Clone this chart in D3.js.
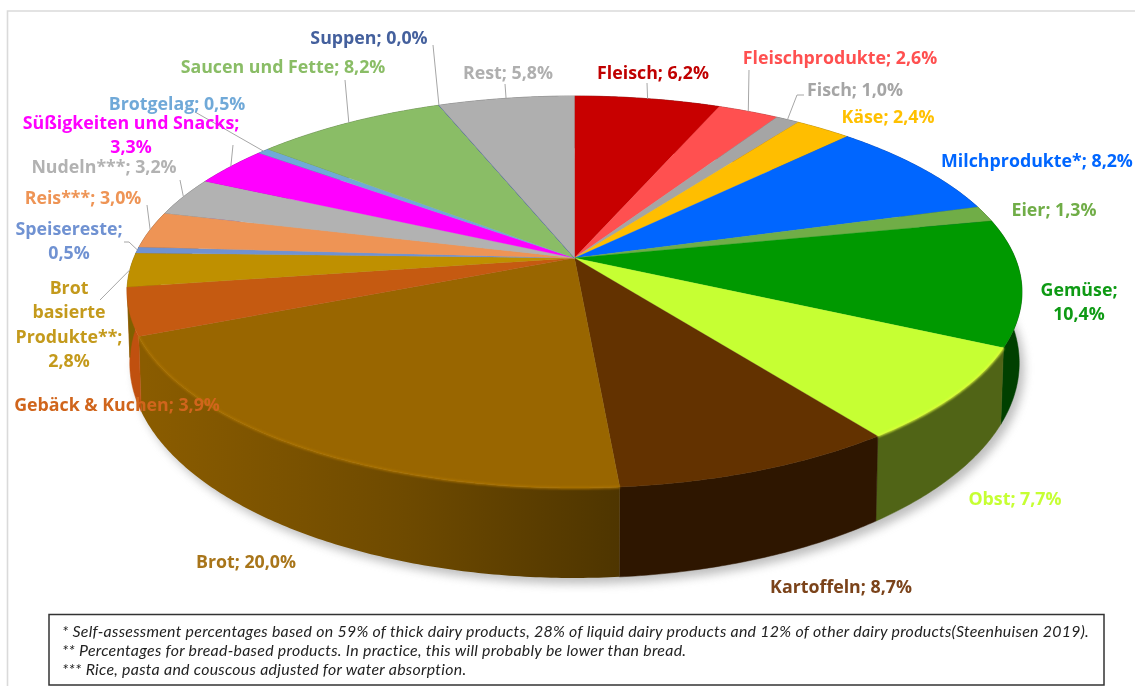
<!DOCTYPE html>
<html lang="de">
<head>
<meta charset="utf-8">
<script src="https://cdn.jsdelivr.net/npm/d3@7/dist/d3.min.js"></script>
<style>
html,body{margin:0;padding:0;background:#fff;overflow:hidden}
svg{display:block;filter:blur(0.45px)}
</style>
</head>
<body>
<svg id="chart" width="1135" height="686"></svg>
<script>
// ---- data ----
const categories = ["Fleisch","Fleischprodukte","Fisch","Käse","Milchprodukte*","Eier","Gemüse","Obst","Kartoffeln","Brot","Gebäck & Kuchen","Brot basierte Produkte**","Speisereste","Reis***","Nudeln***","Süßigkeiten und Snacks","Brotgelag","Saucen und Fette","Suppen","Rest"];
const values = [6.2,2.6,1.0,2.4,8.2,1.3,10.4,7.7,8.7,20.0,3.9,2.8,0.5,3.0,3.2,3.3,0.5,8.2,0.0,5.8];
const colors = ["#C80000","#FF5050","#A5A5A5","#FFBE00","#0066FF","#70AD47","#009900","#C6FF33","#633200","#996600","#C55A11","#BF9000","#7092D2","#EE9455","#B2B2B2","#FF00FF","#70A9D8","#8ABD66","#44609D","#AFAFAF"];
const wallColors = ["#640000","#802828","#525252","#806000","#003380","#385624","#004000","#506416","#2E1600","#6E4A00","#C0500F","#806000","#384969","#77492A","#595959","#800080","#38546C","#455E33","#223050","#575757"];
const labelColors = ["#C00000","#FF5050","#A5A5A5","#FFC000","#0066FF","#70AD47","#0E9A14","#C6FF33","#7B431A","#A8751A","#D0651C","#C49A1C","#7092D2","#EE9455","#B2B2B2","#FF00FF","#70A9D8","#8ABD66","#44609D","#AFAFAF"];
const labelLines = [["Fleisch; 6,2%"],["Fleischprodukte; 2,6%"],["Fisch; 1,0%"],["Käse; 2,4%"],["Milchprodukte*; 8,2%"],["Eier; 1,3%"],["Gemüse;","10,4%"],["Obst; 7,7%"],["Kartoffeln; 8,7%"],["Brot; 20,0%"],["Gebäck & Kuchen; 3,9%"],["Brot","basierte","Produkte**;","2,8%"],["Speisereste;","0,5%"],["Reis***; 3,0%"],["Nudeln***; 3,2%"],["Süßigkeiten und Snacks;","3,3%"],["Brotgelag; 0,5%"],["Saucen und Fette; 8,2%"],["Suppen; 0,0%"],["Rest; 5,8%"]];
const notes = [
  "* Self-assessment percentages based on 59% of thick dairy products, 28% of liquid dairy products and 12% of other dairy products(Steenhuisen 2019).",
  "** Percentages for bread-based products. In practice, this will probably be lower than bread.",
  "*** Rice, pasta and couscous adjusted for water absorption."
];

// ---- layout (label centre x / first-line centre y, and leader start) ----
const labelAt = [[653,73],[840,58],[855,90],[888,117],[1037,161],[1054,210],[1079,290],[1015,499],[841,587],[246,562],[117,405],[69,288],[69,229],[83,198],[104,167],[131,123],[177,104],[283,67],[369,38],[508,73]];
const leaderFrom = [[647,83],[749,70],[[804,95],[797,95]],null,null,null,null,null,null,null,null,[100,300],[[124,242],[129,242]],[147,205],[180,180],[233,145],[195,112],[345,80],[433,45],[505,84]];
const lineStep = 24.2;

// perspective disc: unit circle -> screen
const k = -0.1735;
const top_ = {cx:574.5, cy:258, bx:440.7, by:190.1};
const bot_ = {cx:574.5, cy:325.7, bx:438, by:208.5};
const project = (a, L) => {
  const X = Math.sin(a), Y = -Math.cos(a), d = 1 + k*Y;
  return [L.cx + L.bx*X/d, L.cy + L.by*Y/d];
};
const arcPts = (a0, a1, L) => {
  const n = Math.max(2, Math.ceil(Math.abs(a1-a0)/0.01));
  return d3.range(n+1).map(i => project(a0 + (a1-a0)*i/n, L));
};

const pieData = d3.pie().sort(null).value(d => d.v).startAngle(0).endAngle(2*Math.PI)(
  values.map((v,i) => ({v,i})));

const svg = d3.select("#chart");
const defs = svg.append("defs");
defs.append("filter").attr("id","soft").attr("x","-10%").attr("y","-10%").attr("width","120%").attr("height","120%")
  .append("feGaussianBlur").attr("stdDeviation",5);
defs.append("filter").attr("id","edge").attr("x","-5%").attr("y","-5%").attr("width","110%").attr("height","110%")
  .append("feGaussianBlur").attr("stdDeviation",0.8);
const brotGrad = defs.append("linearGradient").attr("id","brotWall")
  .attr("gradientUnits","userSpaceOnUse").attr("x1",145).attr("x2",620).attr("y1",0).attr("y2",0);
brotGrad.append("stop").attr("offset",0).attr("stop-color","#8A5C00");
brotGrad.append("stop").attr("offset",0.55).attr("stop-color","#6E4A00");
brotGrad.append("stop").attr("offset",1).attr("stop-color","#4E3500");

const line = d3.line();
const TAU = 2*Math.PI;

// outer frame
svg.append("path").attr("d", line([[1135,11],[7.5,11],[7.5,686]]))
  .attr("fill","none").attr("stroke","#DADADA").attr("stroke-width",1.6);

// soft shadow under the disc
svg.append("path")
  .attr("d", line(arcPts(0,TAU,bot_))+"Z")
  .attr("transform","translate(5,6)")
  .attr("fill","#8a8a8a").attr("opacity",0.55).attr("filter","url(#soft)");

// side walls
svg.append("g").selectAll("path").data(pieData).join("path")
  .attr("d", d => line(arcPts(d.startAngle,d.endAngle,top_).concat(arcPts(d.endAngle,d.startAngle,bot_)))+"Z")
  .attr("fill", d => d.data.i===9 ? "url(#brotWall)" : wallColors[d.data.i])
  .attr("stroke", d => d.data.i===9 ? "none" : wallColors[d.data.i]).attr("stroke-width",0.5);

// top faces
svg.append("g").selectAll("path").data(pieData).join("path")
  .attr("d", d => line([[top_.cx,top_.cy]].concat(arcPts(d.startAngle,d.endAngle,top_)))+"Z")
  .attr("fill", d => colors[d.data.i])
  .attr("stroke", d => colors[d.data.i]).attr("stroke-width",d => d.value===0 ? 1 : 0.3);

// bevel highlight along the front rim of the lit slices
svg.append("g").attr("filter","url(#edge)").selectAll("path")
  .data(pieData.filter(d => d.data.i===7 || d.data.i===9)).join("path")
  .attr("d", d => line(arcPts(d.startAngle,d.endAngle,top_)))
  .attr("fill","none")
  .attr("stroke", d => d3.color(colors[d.data.i]).brighter(0.35))
  .attr("stroke-width",2);

// leader lines
svg.append("g").selectAll("path")
  .data(pieData.filter(d => leaderFrom[d.data.i])).join("path")
  .attr("d", d => {
    const f = leaderFrom[d.data.i];
    const start = Array.isArray(f[0]) ? f : [f];
    const mid = (d.startAngle+d.endAngle)/2;
    return line(start.concat([project(mid, top_)]));
  })
  .attr("fill","none").attr("stroke","#A6A6A6").attr("stroke-width",1);

// data labels
const lab = svg.append("g")
  .attr("font-family","'Open Sans', sans-serif")
  .attr("font-weight",700).attr("font-size",17.8).attr("text-anchor","middle");
categories.forEach((name,i) => {
  labelLines[i].forEach((t,j) => {
    lab.append("text")
      .attr("x",labelAt[i][0]).attr("y",labelAt[i][1]+j*lineStep)
      .attr("dy","0.35em").attr("fill",labelColors[i]).text(t);
  });
});

// footnote box
svg.append("rect").attr("x",49).attr("y",614.5).attr("width",1055).attr("height",70.5)
  .attr("fill","#fff").attr("stroke","#333").attr("stroke-width",1.5);
svg.append("g").attr("font-family","Lato, sans-serif").attr("font-style","italic")
  .attr("font-size",15.9).attr("letter-spacing",0.28).attr("fill","#222")
  .selectAll("text").data(notes).join("text")
  .attr("x",62).attr("y",(d,i) => 631+i*19.2).attr("dy","0.35em").text(d => d);
</script>
</body>
</html>
